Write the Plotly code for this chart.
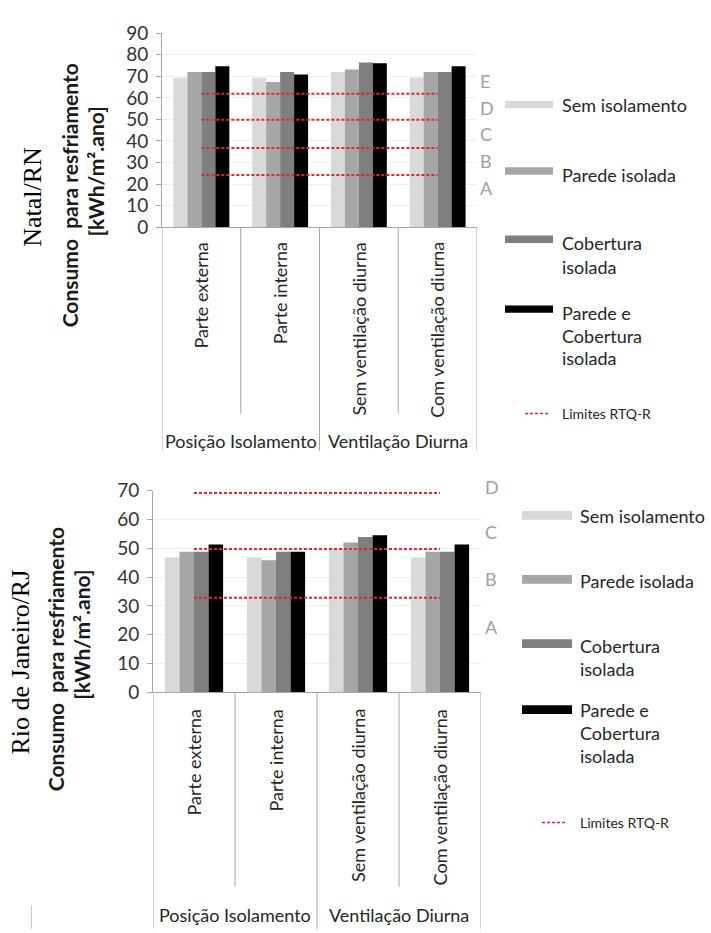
import plotly.graph_objects as go

# ---------------- data ----------------
categories = ["Parte externa", "Parte interna", "Sem ventilação diurna", "Com ventilação diurna"]
groups = ["Posição Isolamento", "Ventilação Diurna"]
series_names = ["Sem isolamento", "Parede isolada", "Cobertura isolada", "Parede e Cobertura isolada"]
series_colors = ["#d9d9d9", "#a6a6a6", "#7f7f7f", "#000000"]

natal_sem = [69.3, 69.3, 72.0, 69.3]
natal_parede = [72.0, 67.3, 73.2, 72.0]
natal_cobertura = [72.0, 72.0, 76.4, 72.0]
natal_parede_cob = [74.7, 70.8, 76.0, 74.7]
natal_limits = [24.2, 36.8, 49.9, 61.9]
natal_limit_labels = ["A", "B", "C", "D", "E"]
natal_limit_label_pos = [18.1, 30.8, 43.3, 55.4, 67.9]

rio_sem = [46.8, 46.8, 49.9, 46.8]
rio_parede = [48.8, 45.8, 52.0, 48.8]
rio_cobertura = [48.8, 48.8, 53.9, 48.8]
rio_parede_cob = [51.3, 48.8, 54.5, 51.3]
rio_limits = [32.8, 49.7, 69.2]
rio_limit_labels = ["A", "B", "C", "D"]
rio_limit_label_pos = [22.6, 39.2, 55.6, 71.4]

legend_lines = [["Sem isolamento"], ["Parede isolada"], ["Cobertura", "isolada"],
                ["Parede e", "Cobertura", "isolada"]]
limit_legend = "Limites RTQ-R"
y_title = ["Consumo  para resfriamento", "[kWh/m².ano]"]
city_names = ["Natal/RN", "Rio de Janeiro/RJ"]

W, H = 711, 933
FONT = "Lato"


def px(x):
    return x / W


def py(y):
    return 1 - y / H


fig = go.Figure()

natal_vals = [natal_sem, natal_parede, natal_cobertura, natal_parede_cob]
rio_vals = [rio_sem, rio_parede, rio_cobertura, rio_parede_cob]

for name, col, vals in zip(series_names, series_colors, natal_vals):
    fig.add_trace(go.Bar(x=categories, y=vals, name=name, marker_color=col,
                         marker_line_width=0, showlegend=False, xaxis="x", yaxis="y"))
for name, col, vals in zip(series_names, series_colors, rio_vals):
    fig.add_trace(go.Bar(x=categories, y=vals, name=name, marker_color=col,
                         marker_line_width=0, showlegend=False, xaxis="x2", yaxis="y2"))

red = "#e3262b"
for v in natal_limits:
    fig.add_trace(go.Scatter(x=categories, y=[v] * len(categories), mode="lines",
                             line=dict(color=red, width=2, dash="3px,2px"),
                             showlegend=False, hoverinfo="skip", xaxis="x", yaxis="y"))
for v in rio_limits:
    fig.add_trace(go.Scatter(x=categories, y=[v] * len(categories), mode="lines",
                             line=dict(color=red, width=2, dash="3px,2px"),
                             showlegend=False, hoverinfo="skip", xaxis="x2", yaxis="y2"))

axcol = "#a6a6a6"
gridcol = "#eeeeee"
tickfont = dict(family=FONT, size=19, color="#333333")

# geometry (pixels)
top = dict(x0=162, x1=477, y_top=21.7, y_bot=220.7)
bot = dict(x0=153, x1=481, y_top=490.7, y_bot=697.5)

fig.update_layout(
    width=W, height=H, autosize=False,
    margin=dict(l=0, r=0, t=0, b=0),
    paper_bgcolor="white", plot_bgcolor="white",
    barmode="group", bargap=0.29, bargroupgap=0,
    xaxis=dict(domain=[px(top["x0"]), px(top["x1"])], anchor="y", type="category",
               range=[-0.5, 3.5], showticklabels=False, ticks="", showgrid=False,
               showline=True, linecolor=axcol, zeroline=False),
    yaxis=dict(domain=[py(top["y_bot"]), py(top["y_top"])], anchor="x", range=[0, 90],
               dtick=10, ticks="outside", ticklen=5, tickcolor=axcol, showline=True,
               linecolor=axcol, gridcolor=gridcol, zeroline=False, tickfont=tickfont,
               ticklabelstandoff=4),
    xaxis2=dict(domain=[px(bot["x0"]), px(bot["x1"])], anchor="y2", type="category",
                range=[-0.5, 3.5], showticklabels=False, ticks="", showgrid=False,
                showline=True, linecolor=axcol, zeroline=False),
    yaxis2=dict(domain=[py(bot["y_bot"]), py(bot["y_top"])], anchor="x2", range=[0, 70],
                dtick=10, ticks="outside", ticklen=5, tickcolor=axcol, showline=True,
                linecolor=axcol, gridcolor=gridcol, zeroline=False, tickfont=tickfont,
                ticklabelstandoff=4),
)

shapes = []
annotations = []
txtcol = "#262626"


def category_axis(xref, y_axis_px, inner_end_px, outer_end_px, label_top_px, group_px):
    # divider lines
    for i, b in enumerate([-0.5, 0.5, 1.5, 2.5, 3.5]):
        end = outer_end_px if i % 2 == 0 else inner_end_px
        shapes.append(dict(type="line", xref=xref, yref="paper", x0=b, x1=b,
                           y0=py(y_axis_px), y1=py(end), line=dict(color=axcol, width=1)))
    for c in categories:
        annotations.append(dict(xref=xref, yref="paper", x=c, y=py(label_top_px),
                                text=c, textangle=-90, showarrow=False, xanchor="center",
                                yanchor="top", font=dict(family=FONT, size=18, color=txtcol)))
    for gi, g in enumerate(groups):
        annotations.append(dict(xref=xref, yref="paper", x=0.5 + 2 * gi, y=py(group_px),
                                text=g, showarrow=False, xanchor="center", yanchor="middle",
                                font=dict(family=FONT, size=18, color=txtcol)))


category_axis("x", top["y_bot"], 411.7, 450, 234, 440)
category_axis("x2", bot["y_bot"], 897, 940, 713, 926)

# limit letter labels
for lab, v in zip(natal_limit_labels, natal_limit_label_pos):
    annotations.append(dict(xref="paper", yref="y domain", x=px(478), y=v / 90, text=lab,
                            showarrow=False, xanchor="left", yanchor="middle",
                            font=dict(family=FONT, size=18, color="#a0a0a0")))
for lab, v in zip(rio_limit_labels, rio_limit_label_pos):
    annotations.append(dict(xref="paper", yref="y2 domain", x=px(483), y=v / 70, text=lab,
                            showarrow=False, xanchor="left", yanchor="middle",
                            font=dict(family=FONT, size=18, color="#a0a0a0")))


# y titles
def y_titles(city, city_xy, l1_xy, l2_xy):
    annotations.append(dict(xref="paper", yref="paper", x=px(city_xy[0]), y=py(city_xy[1]),
                            text=city, textangle=-90, showarrow=False, xanchor="center",
                            yanchor="middle",
                            font=dict(family="Liberation Serif", size=26, color="black")))
    annotations.append(dict(xref="paper", yref="paper", x=px(l1_xy[0]), y=py(l1_xy[1]),
                            text="<b>" + y_title[0] + "</b>", textangle=-90, showarrow=False,
                            xanchor="center", yanchor="middle",
                            font=dict(family=FONT, size=21, color="#1a1a1a")))
    annotations.append(dict(xref="paper", yref="paper", x=px(l2_xy[0]), y=py(l2_xy[1]),
                            text="<b>" + y_title[1] + "</b>", textangle=-90, showarrow=False,
                            xanchor="center", yanchor="middle",
                            font=dict(family=FONT, size=21, color="#1a1a1a")))


y_titles(city_names[0], (32.5, 190), (69.5, 188.5), (95, 163.5))
y_titles(city_names[1], (21, 667), (55, 663.5), (81.5, 639))


# custom legends
def legend(sw_x0, sw_x1, text_x, sw_centers, sw_h, line_ys, lim_x0, lim_x1, lim_y):
    for col, c, lines, ys in zip(series_colors, sw_centers, legend_lines, line_ys):
        shapes.append(dict(type="rect", xref="paper", yref="paper", x0=px(sw_x0), x1=px(sw_x1),
                           y0=py(c + sw_h / 2), y1=py(c - sw_h / 2), fillcolor=col,
                           line=dict(width=0)))
        for t, yy in zip(lines, ys):
            annotations.append(dict(xref="paper", yref="paper", x=px(text_x), y=py(yy), text=t,
                                    showarrow=False, xanchor="left", yanchor="middle",
                                    font=dict(family=FONT, size=18, color=txtcol)))
    shapes.append(dict(type="line", xref="paper", yref="paper", x0=px(lim_x0), x1=px(lim_x1),
                       y0=py(lim_y), y1=py(lim_y), line=dict(color=red, width=1.5, dash="3px,2px")))
    annotations.append(dict(xref="paper", yref="paper", x=px(text_x), y=py(lim_y),
                            text=limit_legend, showarrow=False, xanchor="left", yanchor="middle",
                            font=dict(family=FONT, size=14, color=txtcol)))


legend(505, 553, 560, [95, 163, 233, 304.7], 7.5,
       [[95], [166.7], [236.7, 261.7], [308.3, 331.7, 355]], 525, 550, 411.7)
legend(522, 572, 578, [516, 581.7, 647.7, 715.3], 9,
       [[516.7], [583.3], [650, 674], [716, 739.3, 763.3]], 542, 565, 831)

# small border fragment at bottom-left
shapes.append(dict(type="line", xref="paper", yref="paper", x0=px(31.5), x1=px(31.5),
                   y0=py(916), y1=py(940), line=dict(color="#c8c8c8", width=1)))

fig.update_layout(shapes=shapes, annotations=annotations)
fig.write_html("out.html", config={"displayModeBar": False},
               post_script="document.body.style.margin='0';document.body.style.overflow='hidden';")
